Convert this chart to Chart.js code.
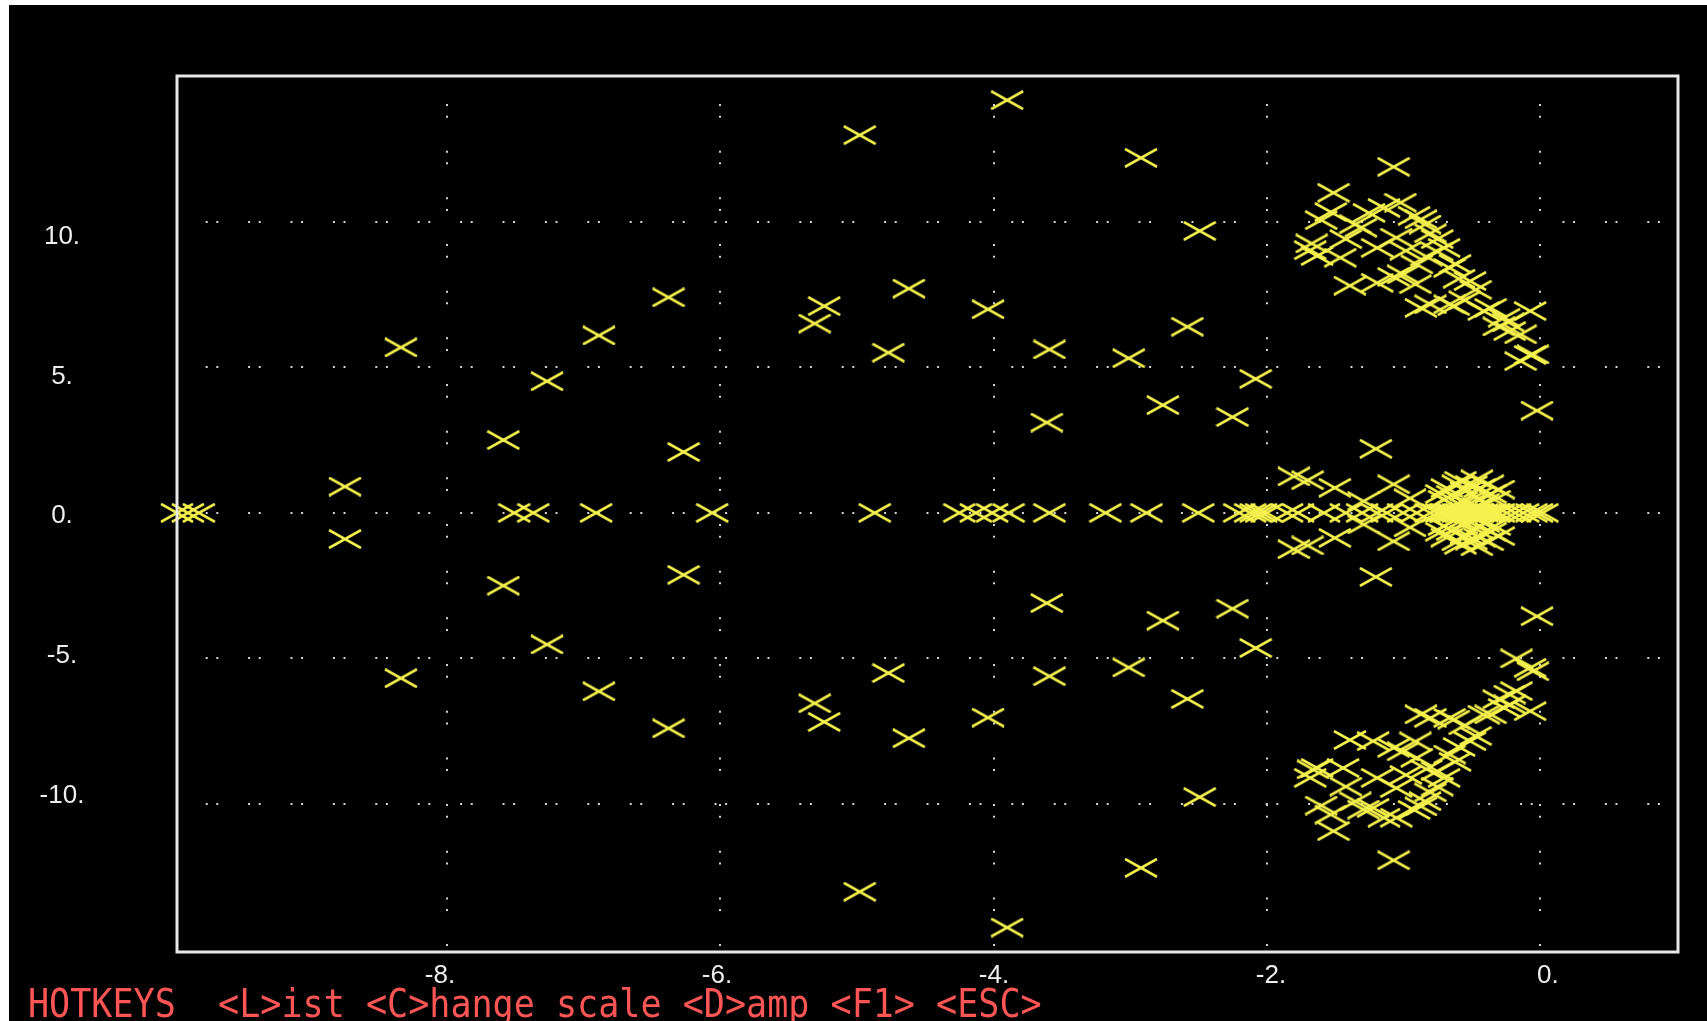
<!DOCTYPE html>
<html>
<head>
<meta charset="utf-8">
<script src="https://cdn.jsdelivr.net/npm/chart.js@4.4.1/dist/chart.umd.min.js"></script>
<style>
  html, body { margin: 0; padding: 0; background: #ffffff; width: 1707px; height: 1021px; overflow: hidden; }
  #bg { position: absolute; left: 9px; top: 5px; width: 1698px; height: 1016px; background: #000000; }
  #c { position: absolute; left: 0; top: 0; }
  #hotkeys {
    position: absolute; left: 28px; top: 980px;
    font-family: 'DejaVu Sans Mono', 'Liberation Mono', monospace; font-size: 35.1px;
    color: #ff5555; white-space: pre; line-height: normal;
    transform: scaleY(1.12); transform-origin: 0 0;
  }
</style>
</head>
<body>
<div id="bg"></div>
<canvas id="c" width="1707" height="1021"></canvas>
<div id="hotkeys">HOTKEYS  &lt;L&gt;ist &lt;C&gt;hange scale &lt;D&gt;amp &lt;F1&gt; &lt;ESC&gt;</div>
<script>
// ---------------- DATA ----------------
// Axis ranges (as drawn by the box)
const xRange = [-9.98, 1.013];
const yRange = [-15.08, 15.0];

// Tick values and their labels
const xTickValues = [-8, -6, -4, -2, 0];
const xTickLabels = ['-8.', '-6.', '-4.', '-2.', '0.'];
const yTickValues = [-10, -5, 0, 5, 10];
const yTickLabels = ['-10.', '-5.', '0.', '5.', '10.'];

// Roots lying on the real axis (imaginary part 0)
const realAxisRe = [-9.98, -9.90, -9.82, -7.51, -7.37, -6.91, -6.06, -4.87, -4.25, -4.13, -4.01, -3.89,
  -3.59, -3.18, -2.88, -2.50, -2.20, -2.12, -2.08, -2.04, -2.00, -1.85, -1.77, -1.58, -1.42, -1.30,
  -1.19, -1.12, -1.00, -0.90, -0.80, -0.75, -0.72, -0.69, -0.66, -0.63, -0.60, -0.57, -0.54, -0.51,
  -0.48, -0.45, -0.42, -0.39, -0.36, -0.33, -0.30, -0.24, -0.18, -0.12, -0.06, -0.02, 0.02];

// Isolated roots, upper half  [re, im]
const scatteredUpper = [[-3.90, 14.17], [-4.98, 12.97], [-2.92, 12.19], [-1.07, 11.88], [-2.49, 9.68],
  [-6.38, 7.40], [-4.62, 7.70], [-5.24, 7.10], [-5.31, 6.50], [-4.04, 6.99], [-6.89, 6.09], [-8.34, 5.68],
  [-4.77, 5.50], [-3.59, 5.61], [-2.58, 6.39], [-3.01, 5.31], [-7.27, 4.52], [-2.08, 4.60], [-2.76, 3.70],
  [-2.25, 3.29], [-3.61, 3.10], [-0.02, 3.51], [-7.59, 2.50], [-6.27, 2.09], [-1.20, 2.20], [-8.75, 0.90]];

// Isolated roots, lower half  [re, im]
const scatteredLower = [[-3.90, -14.24], [-4.98, -13.01], [-2.92, -12.19], [-1.07, -11.93], [-2.49, -9.76],
  [-6.38, -7.40], [-4.62, -7.74], [-5.24, -7.18], [-5.31, -6.54], [-4.04, -7.03], [-6.89, -6.13], [-8.34, -5.68],
  [-4.77, -5.50], [-3.59, -5.61], [-2.58, -6.39], [-3.01, -5.31], [-7.27, -4.52], [-2.08, -4.64], [-2.76, -3.70],
  [-2.25, -3.29], [-3.61, -3.10], [-0.02, -3.55], [-7.59, -2.50], [-6.27, -2.13], [-1.20, -2.20], [-8.75, -0.90]];

// Dense cluster near the top right  [re, im]
const clusterUpper = [[-1.51, 10.99], [-1.53, 10.33], [-1.31, 9.79], [-1.14, 10.47], [-1.02, 10.65],
  [-1.25, 10.30], [-1.67, 9.25], [-1.68, 9.02], [-1.63, 8.82], [-1.46, 8.76], [-1.35, 9.91], [-1.19, 9.10],
  [-1.19, 7.90], [-1.39, 7.80], [-1.07, 8.10], [-1.00, 8.19], [-0.90, 8.53], [-0.91, 7.85], [-0.87, 10.08],
  [-0.84, 9.90], [-0.92, 10.20], [-0.80, 9.60], [-0.75, 9.40], [-0.70, 9.10], [-0.75, 8.97], [-0.66, 8.41],
  [-0.62, 8.55], [-0.59, 8.04], [-0.51, 7.96], [-0.47, 7.66], [-0.80, 7.16], [-0.66, 7.16], [-0.63, 7.10],
  [-0.87, 7.04], [-0.41, 6.93], [-0.36, 7.04], [-0.26, 6.70], [-0.23, 6.54], [-0.07, 6.93], [-0.22, 6.24],
  [-0.14, 6.13], [-0.07, 5.42], [-0.14, 5.21], [-0.05, 5.44], [-1.60, 10.05], [-1.42, 9.40], [-1.05, 9.45],
  [-0.98, 9.00], [-0.83, 8.80], [-0.55, 7.30], [-0.30, 6.40]];

// Dense cluster near the bottom right  [re, im]
const clusterLower = [[-1.51, -10.93], [-1.53, -10.36], [-1.29, -10.19], [-1.14, -10.47], [-1.05, -10.47],
  [-1.22, -10.13], [-1.68, -9.10], [-1.66, -8.81], [-1.63, -8.76], [-1.44, -8.76], [-1.35, -9.91], [-1.19, -9.10],
  [-1.22, -7.84], [-1.39, -7.80], [-1.07, -8.07], [-1.00, -8.19], [-0.90, -8.41], [-0.91, -7.85], [-0.87, -10.08],
  [-0.84, -9.90], [-0.92, -10.20], [-0.80, -9.60], [-0.75, -9.40], [-0.70, -9.10], [-0.75, -8.87], [-0.66, -8.30],
  [-0.62, -8.55], [-0.59, -8.04], [-0.51, -7.84], [-0.47, -7.66], [-0.80, -7.04], [-0.66, -7.04], [-0.63, -7.10],
  [-0.87, -6.92], [-0.41, -6.93], [-0.36, -6.92], [-0.26, -6.70], [-0.22, -6.58], [-0.07, -6.81], [-0.22, -6.24],
  [-0.17, -6.12], [-0.07, -5.32], [-0.17, -5.00], [-0.05, -5.44], [-1.60, -10.05], [-1.42, -9.40], [-1.05, -9.45],
  [-0.98, -9.00], [-0.83, -8.80], [-0.55, -7.30], [-0.30, -6.40]];

// Roots close to the real axis, upper half  [re, im]
const nearAxisUpper = [[-1.80, 1.25], [-1.70, 1.12], [-1.50, 0.86], [-1.29, 0.40], [-1.07, 0.98], [-0.95, 0.50],
  [-0.70, 0.45], [-0.68, 0.85], [-0.64, 0.62], [-0.60, 0.98], [-0.57, 0.40], [-0.54, 0.75], [-0.50, 0.95],
  [-0.47, 0.55], [-0.44, 0.85], [-0.41, 0.35], [-0.38, 0.98], [-0.36, 0.65], [-0.33, 0.45], [-0.62, 0.25],
  [-0.52, 0.30], [-0.45, 0.20], [-0.58, 1.10], [-0.46, 1.15], [-0.30, 0.80], [-0.72, 0.65]];

// Roots close to the real axis, lower half  [re, im]
const nearAxisLower = [[-1.80, -1.25], [-1.70, -1.12], [-1.50, -0.86], [-1.29, -0.40], [-1.07, -0.98], [-0.95, -0.50],
  [-0.70, -0.45], [-0.68, -0.85], [-0.64, -0.62], [-0.60, -0.98], [-0.57, -0.40], [-0.54, -0.75], [-0.50, -0.95],
  [-0.47, -0.55], [-0.44, -0.85], [-0.41, -0.35], [-0.38, -0.98], [-0.36, -0.65], [-0.33, -0.45], [-0.62, -0.25],
  [-0.52, -0.30], [-0.45, -0.20], [-0.58, -1.10], [-0.46, -1.15], [-0.30, -0.80], [-0.72, -0.65]];

// Positions of the tick label rows/columns (labels sit on their own text grid)
const xLabelRange = [-9.899, 0.939];
const yLabelRange = [-15.587, 15.744];

// ---------------- STYLE ----------------
const markColor = '#f6f24e';
const gridColor = '#d4d4d4';
const labelColor = '#eeeeee';

function makeCross() {
  const c = document.createElement('canvas');
  c.width = 34; c.height = 20;
  const g = c.getContext('2d');
  g.strokeStyle = markColor;
  g.lineWidth = 2.6;
  g.lineCap = 'butt';
  g.beginPath();
  g.moveTo(1, 1); g.lineTo(33, 19);
  g.moveTo(1, 19); g.lineTo(33, 1);
  g.stroke();
  return c;
}
const cross = makeCross();

const toPts = arr => arr.map(p => ({ x: p[0], y: p[1] }));
const dsStyle = {
  pointStyle: cross, pointRadius: 4, pointHoverRadius: 4,
  showLine: false, clip: false,
  backgroundColor: markColor, borderColor: markColor
};

const datasets = [
  Object.assign({ label: 'real', data: realAxisRe.map(v => ({ x: v, y: 0 })) }, dsStyle),
  Object.assign({ label: 'upper', data: toPts(scatteredUpper) }, dsStyle),
  Object.assign({ label: 'lower', data: toPts(scatteredLower) }, dsStyle),
  Object.assign({ label: 'clusterUpper', data: toPts(clusterUpper) }, dsStyle),
  Object.assign({ label: 'clusterLower', data: toPts(clusterLower) }, dsStyle),
  Object.assign({ label: 'nearUpper', data: toPts(nearAxisUpper) }, dsStyle),
  Object.assign({ label: 'nearLower', data: toPts(nearAxisLower) }, dsStyle)
];

const framePlugin = {
  id: 'frame',
  afterDatasetsDraw(chart) {
    const { ctx, chartArea: a } = chart;
    ctx.save();
    ctx.strokeStyle = '#e8e8e8';
    ctx.lineWidth = 3;
    ctx.strokeRect(a.left, a.top, a.right - a.left, a.bottom - a.top);
    ctx.restore();
  }
};

const labelFont = { family: "'Liberation Sans', Arial, sans-serif", size: 26 };
const noPad = s => { s.paddingTop = 0; s.paddingBottom = 0; s.paddingLeft = 0; s.paddingRight = 0; };

new Chart(document.getElementById('c'), {
  type: 'scatter',
  data: { datasets },
  options: {
    responsive: false,
    animation: false,
    devicePixelRatio: 1,
    events: [],
    layout: { autoPadding: false, padding: { left: 0, top: 76, right: 29, bottom: 0 } },
    plugins: { legend: { display: false }, tooltip: { enabled: false } },
    scales: {
      x: {
        type: 'linear', position: 'bottom', min: xRange[0], max: xRange[1],
        afterBuildTicks: s => { s.ticks = xTickValues.map(v => ({ value: v })); },
        afterFit: s => { s.height = 0; noPad(s); },
        ticks: { display: false },
        grid: { color: gridColor, lineWidth: 2, drawTicks: false },
        border: { display: false, dash: [2, 9.67, 2, 33], dashOffset: 18.67 }
      },
      xl: {
        type: 'linear', position: 'bottom', min: xLabelRange[0], max: xLabelRange[1],
        afterBuildTicks: s => { s.ticks = xTickValues.map(v => ({ value: v })); },
        afterFit: s => { s.height = 69; noPad(s); },
        grid: { display: false, drawTicks: false },
        border: { display: false },
        ticks: {
          color: labelColor, font: labelFont, padding: 8, autoSkip: false,
          maxRotation: 0, minRotation: 0,
          callback: (v, i) => xTickLabels[i]
        }
      },
      y: {
        type: 'linear', position: 'left', min: yRange[0], max: yRange[1],
        afterBuildTicks: s => { s.ticks = yTickValues.map(v => ({ value: v })); },
        afterFit: s => { s.width = 0; noPad(s); },
        ticks: { display: false },
        grid: { color: gridColor, lineWidth: 2, drawTicks: false },
        border: { display: false, dash: [2, 8.6, 2, 29.8], dashOffset: 13.7 }
      },
      yl: {
        type: 'linear', position: 'left', min: yLabelRange[0], max: yLabelRange[1],
        afterBuildTicks: s => { s.ticks = yTickValues.map(v => ({ value: v })); },
        afterFit: s => { s.width = 177; noPad(s); },
        grid: { display: false, drawTicks: false },
        border: { display: false },
        ticks: {
          color: labelColor, font: labelFont, padding: 92.6, crossAlign: 'center', autoSkip: false,
          callback: (v, i) => yTickLabels[i]
        }
      }
    }
  },
  plugins: [framePlugin]
});
</script>
</body>
</html>
